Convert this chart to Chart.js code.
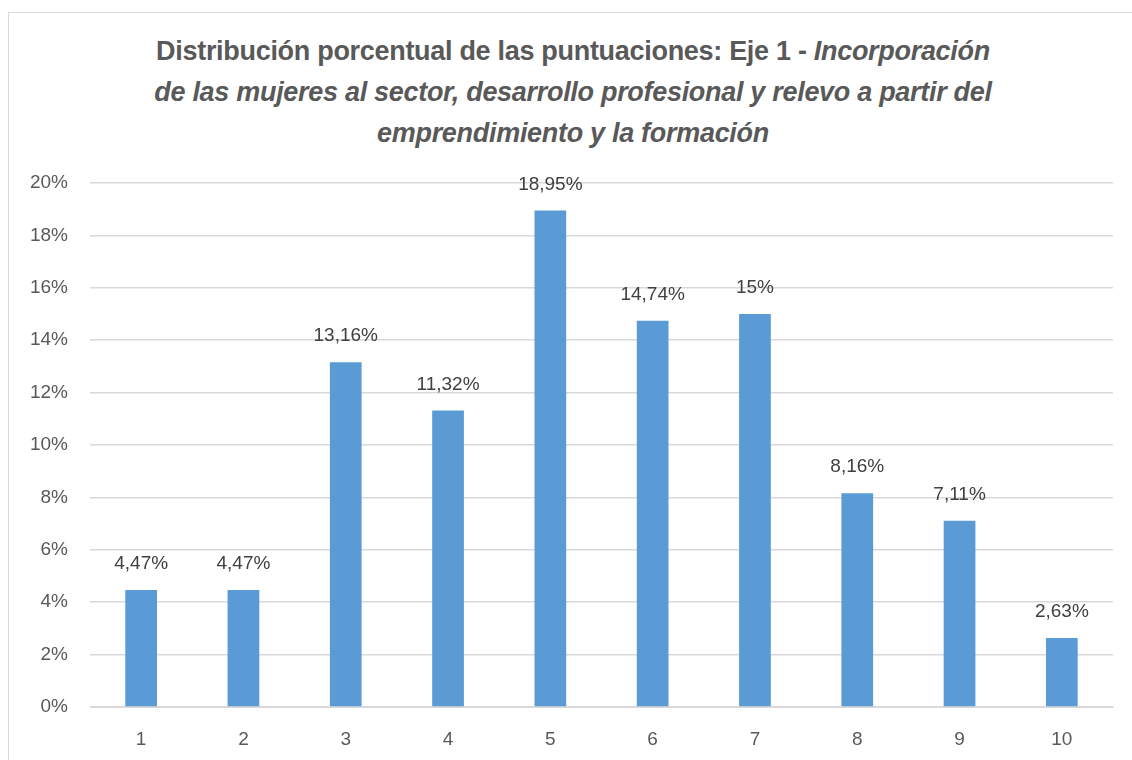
<!DOCTYPE html>
<html>
<head>
<meta charset="utf-8">
<script src="https://cdn.jsdelivr.net/npm/chart.js@4.4.1/dist/chart.umd.min.js"></script>
<style>
    html, body { margin: 0; padding: 0; background: #fff; }
    #wrap { position: relative; width: 1132px; height: 760px; overflow: hidden; }
    #frame {
        position: absolute; left: 8px; top: 12px; width: 1200px; height: 800px;
        border: 1px solid #d9d9d9; box-sizing: border-box;
    }
    #title {
        position: absolute; left: 0; top: 31px; width: 1146px; text-align: center;
        font-family: "Liberation Sans", Arial, sans-serif; font-weight: bold;
        font-size: 27px; line-height: 41px; color: #595959; letter-spacing: -0.3px;
    }
    #title i { font-style: italic; }
    canvas { position: absolute; left: 0; top: 0; }
</style>
</head>
<body>
<div id="wrap">
    <div id="frame"></div>
    <div id="title">
        Distribución porcentual de las puntuaciones: Eje 1 - <i>Incorporación</i><br>
        <i>de las mujeres al sector, desarrollo profesional y relevo a partir del</i><br>
        <i>emprendimiento y la formación</i>
    </div>
    <canvas id="chart" width="1132" height="760"></canvas>
</div>

<script>
// ---------------------------------------------
// DATA
// ---------------------------------------------

const categories = ["1", "2", "3", "4", "5", "6", "7", "8", "9", "10"];
const percentValues = [4.47, 4.47, 13.16, 11.32, 18.95, 14.74, 15, 8.16, 7.11, 2.63];
const valueLabels = ["4,47%", "4,47%", "13,16%", "11,32%", "18,95%", "14,74%", "15%", "8,16%", "7,11%", "2,63%"];
const yTicks = [0, 2, 4, 6, 8, 10, 12, 14, 16, 18, 20];

const FONT = "'Liberation Sans', Arial, sans-serif";

// ---------------------------------------------
// DATA LABELS ABOVE BARS
// ---------------------------------------------

const barLabels = {
    id: "barLabels",
    afterDatasetsDraw(chart) {
        const ctx = chart.ctx;
        const meta = chart.getDatasetMeta(0);
        ctx.save();
        ctx.font = "19px " + FONT;
        ctx.fillStyle = "#404040";
        ctx.textAlign = "center";
        ctx.textBaseline = "middle";
        meta.data.forEach((bar, i) => {
            ctx.fillText(valueLabels[i], bar.x, bar.y - 26);
        });
        ctx.restore();
    }
};

// ---------------------------------------------
// CHART
// ---------------------------------------------

new Chart(document.getElementById("chart"), {
    type: "bar",
    data: {
        labels: categories,
        datasets: [{
            data: percentValues,
            backgroundColor: "#5b9bd5",
            borderWidth: 0,
            barPercentage: 0.31,
            categoryPercentage: 1.0
        }]
    },
    options: {
        responsive: false,
        animation: false,
        layout: { padding: { left: 0, right: 19, top: 183, bottom: 0 } },
        plugins: {
            legend: { display: false },
            title: { display: false },
            tooltip: { enabled: false }
        },
        scales: {
            x: {
                grid: { display: false },
                border: { color: "#d9d9d9", width: 1 },
                ticks: { color: "#595959", font: { family: FONT, size: 19 }, padding: 13 },
                afterFit: s => { s.height = 53; }
            },
            y: {
                min: 0,
                max: 20,
                afterBuildTicks: s => { s.ticks = yTicks.map(v => ({ value: v })); },
                grid: { color: "#d9d9d9", lineWidth: 1.5, drawTicks: false },
                border: { display: false },
                ticks: {
                    color: "#595959",
                    font: { family: FONT, size: 19 },
                    padding: 22,
                    callback: v => v + "%"
                },
                afterFit: s => { s.width = 90; }
            }
        }
    },
    plugins: [barLabels]
});
</script>
</body>
</html>
